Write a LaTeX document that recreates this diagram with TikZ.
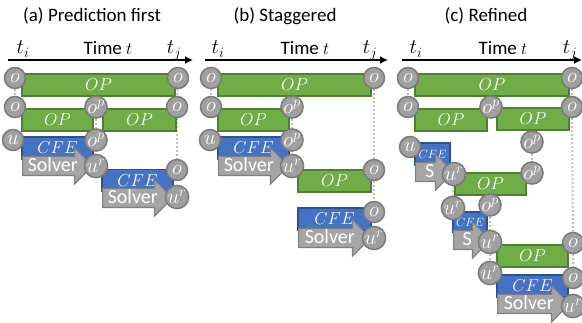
\documentclass[tikz,border=0pt]{standalone}
\usepackage{fontspec}
\setmainfont{Carlito}
\usetikzlibrary{arrows.meta,shapes.arrows,backgrounds}
\definecolor{opfill}{HTML}{70AD47}
\definecolor{opdraw}{HTML}{507E32}
\definecolor{cfefill}{HTML}{4472C4}
\definecolor{cfedraw}{HTML}{2F528F}
\definecolor{ballfill}{HTML}{A0A0A0}
\definecolor{balldraw}{HTML}{7A7A7A}
\definecolor{solvfill}{HTML}{A5A5A5}
\definecolor{solvdraw}{HTML}{7F7F7F}
\definecolor{linkcol}{HTML}{BFBFBF}
\def\capsz{\fontsize{19}{19}\selectfont}
\def\solvsz{\fontsize{20}{20}\selectfont}
\def\mathsz{\fontsize{18}{18}\selectfont}
\def\ballsz{\fontsize{21}{21}\selectfont}
\def\smallsz{\fontsize{13}{13}\selectfont}
\tikzset{
  ball/.style={circle, draw=balldraw, fill=ballfill, line width=1.5pt, minimum size=21pt, inner sep=0pt, text=white, font=\ballsz},
  opbar/.style={rectangle, draw=opdraw, fill=opfill, line width=1.2pt, minimum height=22pt, inner sep=0pt, text=white, font=\mathsz},
  cfebar/.style={rectangle, draw=cfedraw, fill=cfefill, line width=1.2pt, minimum height=22pt, inner sep=0pt, text=white, font=\mathsz},
  solver/.style={single arrow, draw=solvdraw, fill=solvfill, line width=1.2pt, single arrow head extend=8.5pt, inner xsep=2pt, inner ysep=2pt, text height=13pt, text depth=1pt, text=white, font=\solvsz, anchor=tail},
  link/.style={draw=linkcol, line width=2pt, dotted},
  axis/.style={line width=1.5pt, -{Latex[length=8pt,width=8pt]}},
  caption/.style={font=\capsz, anchor=base, inner sep=0pt}
}

\begin{document}
\begin{tikzpicture}[x=1pt,y=-1pt]
		%%%%% START %%%%%
		\useasboundingbox (0,0) rectangle (582,323);
		
		%% (a) prediction first
		\node[caption] (aTitle) at (92,22) {(a) Prediction first};
		\coordinate (aT0) at (8,60);
		\coordinate (aT1) at (193,60);
		\draw[axis] (aT0) -- (aT1);
		\node[caption, font=\fontsize{20}{20}\selectfont] (aTi) at (23,54) {$t_i$};
		\node[caption] (aTime) at (108,55) {Time $t$};
		\node[caption, font=\fontsize{20}{20}\selectfont] (aTj) at (174,54) {$t_j$};
		
		\node[opbar, minimum width=153pt] (aOP1) at (98.5,85) {$OP$};
		\node[opbar, minimum width=71pt] (aOP2) at (57.5,120) {$OP$};
		\node[opbar, minimum width=73pt] (aOP3) at (139.5,120) {$OP$};
		\node[cfebar, minimum width=71pt] (aCFE1) at (57.5,148) {$CFE$};
		\node[solver, minimum height=70pt] (aS1) at (22,166) {Solver};
		\node[cfebar, minimum width=71pt] (aCFE2) at (137.5,180.5) {$CFE$};
		\node[solver, minimum height=70pt] (aS2) at (102,198) {Solver};
		
		\node[ball] (aO1) at (15,78) {$o$};
		\node[ball] (aO2) at (178,78) {$o$};
		\node[ball] (aO3) at (15,107) {$o$};
		\node[ball] (aP1) at (96,107) {$o^p$};
		\node[ball] (aO4) at (177,107) {$o$};
		\node[ball] (aU1) at (13,140) {$u$};
		\node[ball] (aP2) at (96,140) {$o^p$};
		\node[ball] (aR1) at (96,166) {$u^r$};
		\node[ball] (aO5) at (177,170) {$o$};
		\node[ball] (aR2) at (177,197) {$u^r$};
		
		%% (b) staggered
		\node[caption] (bTitle) at (285,22) {(b) Staggered};
		\coordinate (bT0) at (205,60);
		\coordinate (bT1) at (388,60);
		\draw[axis] (bT0) -- (bT1);
		\node[caption, font=\fontsize{20}{20}\selectfont] (bTi) at (218,54) {$t_i$};
		\node[caption] (bTime) at (305,55) {Time $t$};
		\node[caption, font=\fontsize{20}{20}\selectfont] (bTj) at (370,54) {$t_j$};
		
		\node[opbar, minimum width=153pt] (bOP1) at (294.5,85) {$OP$};
		\node[opbar, minimum width=71pt] (bOP2) at (253.5,120) {$OP$};
		\node[cfebar, minimum width=71pt] (bCFE1) at (253.5,148) {$CFE$};
		\node[solver, minimum height=70pt] (bS1) at (218,166) {Solver};
		\node[opbar, minimum width=73pt] (bOP3) at (334.5,181) {$OP$};
		\node[cfebar, minimum width=73pt] (bCFE2) at (334.5,219) {$CFE$};
		\node[solver, minimum height=72pt] (bS2) at (298,238) {Solver};
		
		\node[ball] (bO1) at (211,78) {$o$};
		\node[ball] (bO2) at (374,78) {$o$};
		\node[ball] (bO3) at (211,107) {$o$};
		\node[ball] (bP1) at (292,107) {$o^p$};
		\node[ball] (bU1) at (210,140) {$u$};
		\node[ball] (bP2) at (292,140) {$o^p$};
		\node[ball] (bR1) at (292,166) {$u^r$};
		\node[ball] (bO4) at (374,170) {$o$};
		\node[ball] (bO5) at (374,212) {$o$};
		\node[ball] (bR2) at (374,238) {$u^r$};
		
		%% (c) refined
		\node[caption] (cTitle) at (486,22) {(c) Refined};
		\coordinate (cT0) at (402,60);
		\coordinate (cT1) at (582,60);
		\draw[axis] (cT0) -- (cT1);
		\node[caption, font=\fontsize{20}{20}\selectfont] (cTi) at (416,54) {$t_i$};
		\node[caption] (cTime) at (503,55) {Time $t$};
		\node[caption, font=\fontsize{20}{20}\selectfont] (cTj) at (570,54) {$t_j$};
		
		\node[opbar, minimum width=154pt] (cOP1) at (492,85) {$OP$};
		\node[opbar, minimum width=72pt] (cOP2) at (451,120) {$OP$};
		\node[opbar, minimum width=72pt] (cOP3) at (533,119) {$OP$};
		\node[cfebar, minimum width=35pt, font=\smallsz] (cCFE1) at (432.5,154) {$CFE$};
		\node[solver, minimum height=38pt] (cS1) at (415,172) {S};
		\node[opbar, minimum width=71pt] (cOP4) at (490.5,184) {$OP$};
		\node[cfebar, minimum width=34pt, minimum height=20pt, font=\smallsz] (cCFE2) at (470,222) {$CFE$};
		\node[solver, minimum height=37pt] (cS2) at (453,240) {S};
		\node[opbar, minimum width=71pt] (cOP5) at (532.5,256) {$OP$};
		\node[cfebar, minimum width=71pt] (cCFE3) at (532.5,286) {$CFE$};
		\node[solver, minimum height=72pt] (cS3) at (497,304) {Solver};
		
		\node[ball] (cO1) at (408,78) {$o$};
		\node[ball] (cO2) at (572,78) {$o$};
		\node[ball] (cO3) at (408,107) {$o$};
		\node[ball] (cP1) at (491,107) {$o^p$};
		\node[ball] (cO4) at (572,107) {$o$};
		\node[ball] (cP2) at (532,142) {$o^p$};
		\node[ball] (cU1) at (410,147) {$u$};
		\node[ball] (cR1) at (454,174) {$u^r$};
		\node[ball] (cP3) at (532,173) {$o^p$};
		\node[ball] (cR2) at (453,208) {$u^r$};
		\node[ball] (cP4) at (490,205) {$o^p$};
		\node[ball] (cR3) at (490,242) {$u^r$};
		\node[ball] (cO5) at (573,243) {$o$};
		\node[ball] (cR4) at (490,273) {$u^r$};
		\node[ball] (cO6) at (573,278) {$o$};
		\node[ball] (cR5) at (573,306) {$u^r$};
		
		%% dotted links
		\begin{scope}[on background layer]
		\draw[link] (aO1) -- (aO3);
		\draw[link] (aO2) -- (aO4);
		\draw[link] (aP1) -- (aP2);
		\draw[link] (aO4) -- (aO5);
		\draw[link] (bO1) -- (bO3);
		\draw[link] (bO2) -- (bO4);
		\draw[link] (bP1) -- (bP2);
		\draw[link] (bO4) -- (bO5);
		\draw[link] (cO1) -- (cO3);
		\draw[link] (cO2) -- (cO4);
		\draw[link] (cP2) -- (cP3);
		\draw[link] (cR1) -- (cR2);
		\draw[link] (cP4) -- (cR3);
		\draw[link] (cR3) -- (cR4);
		\draw[link] (cO4) -- (cO5);
		\draw[link] (cO5) -- (cO6);
		\end{scope}
		
		%%%%% END %%%%%
\end{tikzpicture}
\end{document}
